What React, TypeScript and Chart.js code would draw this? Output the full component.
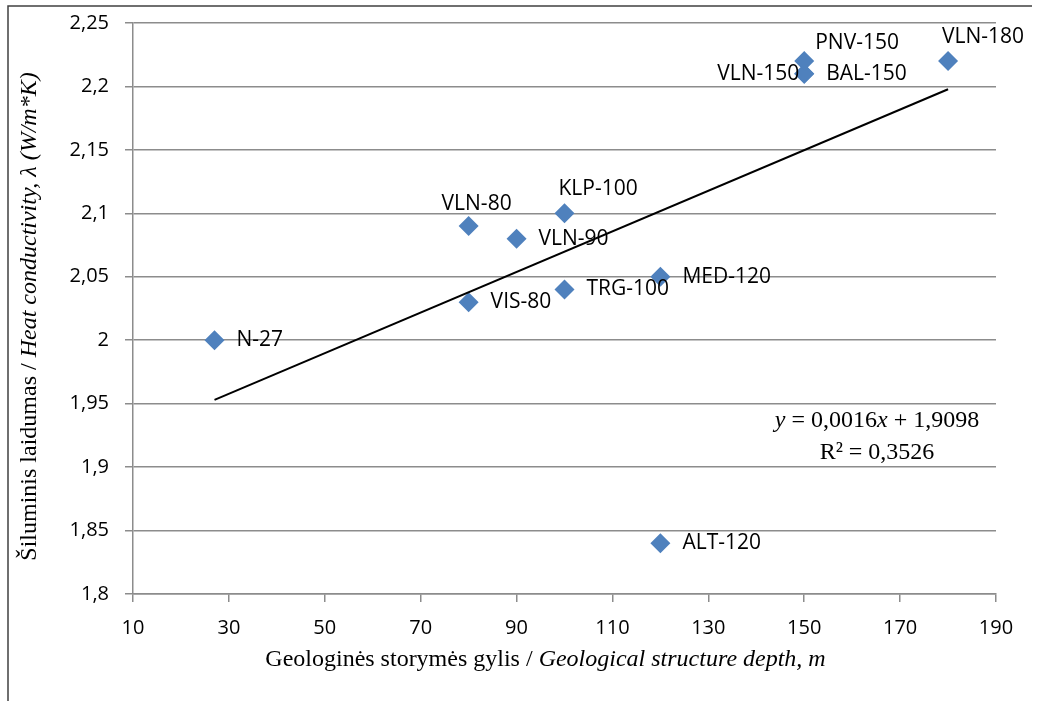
import React, { useEffect, useRef } from "react";
import { Chart, registerables } from "chart.js";

Chart.register(...registerables);

const pointNames = ["N-27", "VIS-80", "VLN-80", "VLN-90", "KLP-100", "TRG-100", "MED-120", "ALT-120", "VLN-150", "BAL-150", "PNV-150", "VLN-180"];
const depthValues = [27, 80, 80, 90, 100, 100, 120, 120, 150, 150, 150, 180];
const conductivityValues = [2.0, 2.03, 2.09, 2.08, 2.1, 2.04, 2.05, 1.84, 2.21, 2.21, 2.22, 2.22];
const labelAnchors = ["right", "right", "above", "right", "aboveRight", "right", "right", "right", "left", "right", "upRight", "aboveRight"];
const xTickLabels = ["10", "30", "50", "70", "90", "110", "130", "150", "170", "190"];
const yTickLabels = ["1,8", "1,85", "1,9", "1,95", "2", "2,05", "2,1", "2,15", "2,2", "2,25"];
const trendSlope = 0.0016;
const trendIntercept = 1.9098;
const trendRange = [27, 180];
const equationLines = ["y = 0,0016x + 1,9098", "R² = 0,3526"];

const LABEL_FONT = "21px 'Open Sans'";
const SERIF = "'Liberation Serif', 'DejaVu Serif', serif";
const SERIF_SIZE = 24;

function drawMixed(ctx: CanvasRenderingContext2D, parts: { t: string; italic?: boolean }[], cx: number, cy: number, size: number) {
  let total = 0;
  const widths = parts.map((p) => {
    ctx.font = `${p.italic ? "italic " : ""}${size}px ${SERIF}`;
    const w = ctx.measureText(p.t).width;
    total += w;
    return w;
  });
  let x = cx - total / 2;
  ctx.textBaseline = "middle";
  ctx.textAlign = "left";
  parts.forEach((p, i) => {
    ctx.font = `${p.italic ? "italic " : ""}${size}px ${SERIF}`;
    ctx.fillText(p.t, x, cy);
    x += widths[i];
  });
}

const overlayPlugin = {
  id: "overlay",
  afterDraw(chart: any) {
    const ctx: CanvasRenderingContext2D = chart.ctx;
    const xs = chart.scales.x;
    const ys = chart.scales.y;
    const area = chart.chartArea;
    ctx.save();
    // frame
    ctx.strokeStyle = "#404040";
    ctx.lineWidth = 1.5;
    ctx.beginPath();
    ctx.moveTo(8, 701);
    ctx.lineTo(8, 6);
    ctx.lineTo(1032, 6);
    ctx.stroke();

    // point labels
    ctx.fillStyle = "#000";
    ctx.font = LABEL_FONT;
    ctx.textBaseline = "middle";
    pointNames.forEach((name, i) => {
      const px = xs.getPixelForValue(depthValues[i]);
      const py = ys.getPixelForValue(conductivityValues[i]);
      const a = labelAnchors[i];
      if (a === "right") {
        ctx.textAlign = "left";
        ctx.fillText(name, px + 22, py);
      } else if (a === "left") {
        ctx.textAlign = "right";
        ctx.fillText(name, px - 5, py);
      } else if (a === "above") {
        ctx.textAlign = "center";
        ctx.fillText(name, px + 8, py - 22);
      } else if (a === "aboveRight") {
        ctx.textAlign = "left";
        ctx.fillText(name, px - 6, py - 24);
      } else if (a === "upRight") {
        ctx.textAlign = "left";
        ctx.fillText(name, px + 11, py - 18);
      }
    });

    // equation
    ctx.fillStyle = "#000";
    const ex = area.right - 119;
    const ey = ys.getPixelForValue(1.93) - 8;
    drawMixed(ctx, [{ t: "y", italic: true }, { t: " = 0,0016" }, { t: "x", italic: true }, { t: " + 1,9098" }], ex, ey, SERIF_SIZE);
    ctx.font = `${SERIF_SIZE}px ${SERIF}`;
    ctx.textAlign = "center";
    ctx.textBaseline = "middle";
    ctx.fillText(equationLines[1], ex, ey + 32);

    // axis titles
    drawMixed(ctx, [{ t: "Geologinės storymės gylis / " }, { t: "Geological structure depth, m", italic: true }], (area.left + area.right) / 2 - 19, 660, SERIF_SIZE);
    ctx.translate(30, (area.top + area.bottom) / 2 + 8);
    ctx.rotate(-Math.PI / 2);
    drawMixed(ctx, [{ t: "Šiluminis laidumas / " }, { t: "Heat conductivity, λ (W/m*K)", italic: true }], 0, 0, SERIF_SIZE);
    ctx.restore();
  },
};

export default function App() {
  const ref = useRef<HTMLCanvasElement>(null);
  useEffect(() => {
    if (!ref.current) return;
    const points = depthValues.map((x, i) => ({ x, y: conductivityValues[i] }));
    const trend = trendRange.map((x) => ({ x, y: trendSlope * x + trendIntercept }));
    const chart = new Chart(ref.current, {
      type: "scatter",
      data: {
        datasets: [
          {
            type: "line",
            data: trend,
            borderColor: "#000",
            borderWidth: 2,
            pointRadius: 0,
            fill: false,
          } as any,
          {
            data: points,
            pointStyle: "rectRot",
            pointRadius: 10,
            pointHoverRadius: 10,
            backgroundColor: "#4F81BD",
            borderColor: "#4F81BD",
            borderWidth: 0,
          },
        ],
      },
      plugins: [overlayPlugin],
      options: {
        responsive: false,
        animation: false,
        layout: { padding: { left: 8, top: 23, right: 45, bottom: 0 } },
        plugins: { legend: { display: false }, tooltip: { enabled: false } },
        scales: {
          x: {
            type: "linear",
            min: 10,
            max: 190,
            afterFit: (s: any) => {
              s.height = 107;
              s.paddingLeft = 0;
              s.paddingRight = 0;
            },
            ticks: {
              stepSize: 20,
              color: "#000",
              font: { family: "'Open Sans'", size: 20 },
              padding: 14,
              callback: (_v: any, i: number) => xTickLabels[i],
            },
            grid: { drawOnChartArea: false, drawTicks: true, tickLength: 8, color: "#8c8c8c", lineWidth: 1.5 },
            border: { display: true, color: "#8c8c8c", width: 1.5 },
          },
          y: {
            type: "linear",
            min: 1.8,
            max: 2.25,
            afterFit: (s: any) => {
              s.width = 125;
              s.paddingTop = 0;
              s.paddingBottom = 0;
            },
            ticks: {
              stepSize: 0.05,
              color: "#000",
              font: { family: "'Open Sans'", size: 20 },
              padding: 16,
              callback: (_v: any, i: number) => yTickLabels[i],
            },
            grid: { drawTicks: true, tickLength: 8, color: "#8c8c8c", lineWidth: 1.5 },
            border: { display: true, color: "#8c8c8c", width: 1.5 },
          },
        },
      },
    });
    return () => chart.destroy();
  }, []);
  return (
    <div style={{ position: "fixed", left: 0, top: 0, width: 1041, height: 701, background: "#fff" }}>
      <canvas ref={ref} width={1041} height={701} />
    </div>
  );
}
